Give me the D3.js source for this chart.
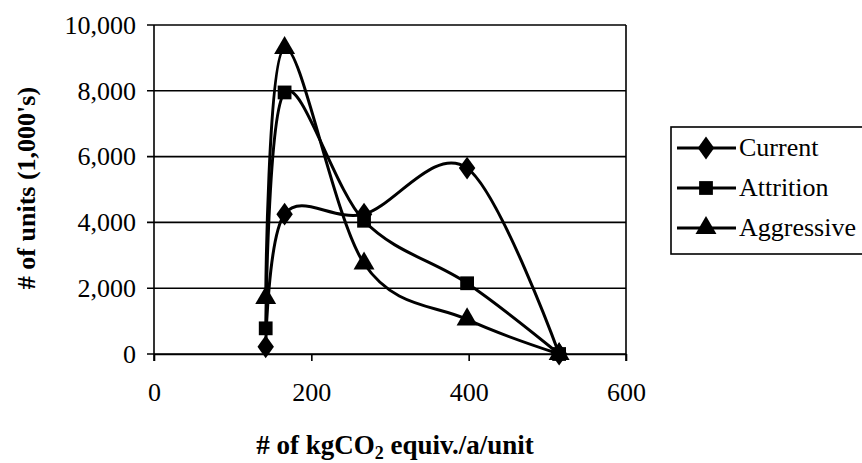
<!DOCTYPE html>
<html>
<head>
<meta charset="utf-8">
<script src="https://cdn.jsdelivr.net/npm/d3@7"></script>
<style>
  body { margin: 0; background: #fff; }
  text { font-family: "Liberation Serif", "Times New Roman", serif; fill: #000; }
</style>
</head>
<body>
<script>
// x values (kgCO2 equiv./a/unit) shared by every series
const xValues = [142, 166, 267, 398, 515];
const currentValues = [220, 4250, 4250, 5650, 0];
const attritionValues = [780, 7950, 4050, 2150, 0];
const aggressiveValues = [1700, 9300, 2750, 1050, 0];
const seriesNames = ["Current", "Attrition", "Aggressive"];
const xTicks = [0, 200, 400, 600];
const yTicks = [0, 2000, 4000, 6000, 8000, 10000];

const width = 862, height = 463;
const plotLeft = 154, plotRight = 626, plotTop = 25, plotBottom = 354;

const svg = d3.select("body").append("svg")
    .attr("width", width)
    .attr("height", height);

let x = d3.scaleLinear().domain([0, 600]).range([plotLeft, plotRight]);
let y = d3.scaleLinear().domain([0, 10000]).range([plotBottom, plotTop]);

// gridlines
svg.append("g")
    .selectAll("line")
    .data(yTicks)
    .enter()
    .append("line")
    .attr("x1", plotLeft - 7)
    .attr("x2", plotRight)
    .attr("y1", d => y(d))
    .attr("y2", d => y(d))
    .attr("stroke", "#000")
    .attr("stroke-width", 1.6);

// plot frame (left + right)
svg.append("line")
    .attr("x1", plotLeft).attr("x2", plotLeft)
    .attr("y1", plotTop).attr("y2", plotBottom + 7)
    .attr("stroke", "#000").attr("stroke-width", 1.6);
svg.append("line")
    .attr("x1", plotRight).attr("x2", plotRight)
    .attr("y1", plotTop).attr("y2", plotBottom + 7)
    .attr("stroke", "#000").attr("stroke-width", 1.6);

// bottom axis
const xAxis = svg.append("g")
    .attr("transform", "translate(0," + plotBottom + ")")
    .call(d3.axisBottom(x).tickValues(xTicks).tickSize(7).tickPadding(22).tickSizeOuter(0));
xAxis.select(".domain").attr("stroke-width", 1.6);
xAxis.selectAll(".tick line").attr("stroke-width", 1.6);
xAxis.selectAll("text")
    .style("font-family", "Liberation Serif")
    .style("font-size", "26px");

// left axis labels
const yAxis = svg.append("g")
    .attr("transform", "translate(" + plotLeft + ",0)")
    .call(d3.axisLeft(y).tickValues(yTicks).tickSize(0).tickPadding(18).tickFormat(d3.format(",")));
yAxis.select(".domain").remove();
yAxis.selectAll("text")
    .style("font-family", "Liberation Serif")
    .style("font-size", "26px");

// axis titles
svg.append("text")
    .attr("x", 395)
    .attr("y", 454)
    .attr("text-anchor", "middle")
    .style("font-weight", "bold")
    .style("font-size", "27px")
    .html('# of kgCO<tspan dy="5" font-size="18px">2</tspan><tspan dy="-5"> equiv./a/unit</tspan>');

svg.append("text")
    .attr("transform", "translate(35,188) rotate(-90)")
    .attr("text-anchor", "middle")
    .style("font-weight", "bold")
    .style("font-size", "26px")
    .text("# of units (1,000's)");

// series
const allSeries = [currentValues, attritionValues, aggressiveValues];
const shapes = [d3.symbolDiamond, d3.symbolSquare, d3.symbolTriangle];
const sizes = [150, 190, 190];

const line = d3.line()
    .x(d => x(d[0]))
    .y(d => y(d[1]))
    .curve(d3.curveCardinal.tension(0));

allSeries.forEach((vals, i) => {
    const pts = xValues.map((xv, j) => [xv, vals[j]]);
    svg.append("path")
        .attr("d", line(pts))
        .attr("fill", "none")
        .attr("stroke", "#000")
        .attr("stroke-width", 3);

    svg.selectAll(".pt" + i)
        .data(pts)
        .enter()
        .append("path")
        .attr("class", "pt" + i)
        .attr("d", d3.symbol().type(shapes[i]).size(sizes[i]))
        .attr("transform", d => "translate(" + x(d[0]) + "," + y(d[1]) + ")" + (i === 0 ? " scale(1.25,1)" : ""))
        .attr("fill", "#000");
});

// legend
const legend = svg.append("g");
legend.append("rect")
    .attr("x", 671).attr("y", 127)
    .attr("width", 200).attr("height", 127)
    .attr("fill", "#fff")
    .attr("stroke", "#000")
    .attr("stroke-width", 1.6);

seriesNames.forEach((name, i) => {
    const ly = 148 + i * 40;
    legend.append("line")
        .attr("x1", 677).attr("x2", 736)
        .attr("y1", ly).attr("y2", ly)
        .attr("stroke", "#000").attr("stroke-width", 3);
    legend.append("path")
        .attr("d", d3.symbol().type(shapes[i]).size(sizes[i]))
        .attr("transform", "translate(706," + ly + ")" + (i === 0 ? " scale(1.25,1)" : ""))
        .attr("fill", "#000");
    legend.append("text")
        .attr("x", 739)
        .attr("y", ly + 8)
        .style("font-size", "26px")
        .text(name);
});
</script>
</body>
</html>
